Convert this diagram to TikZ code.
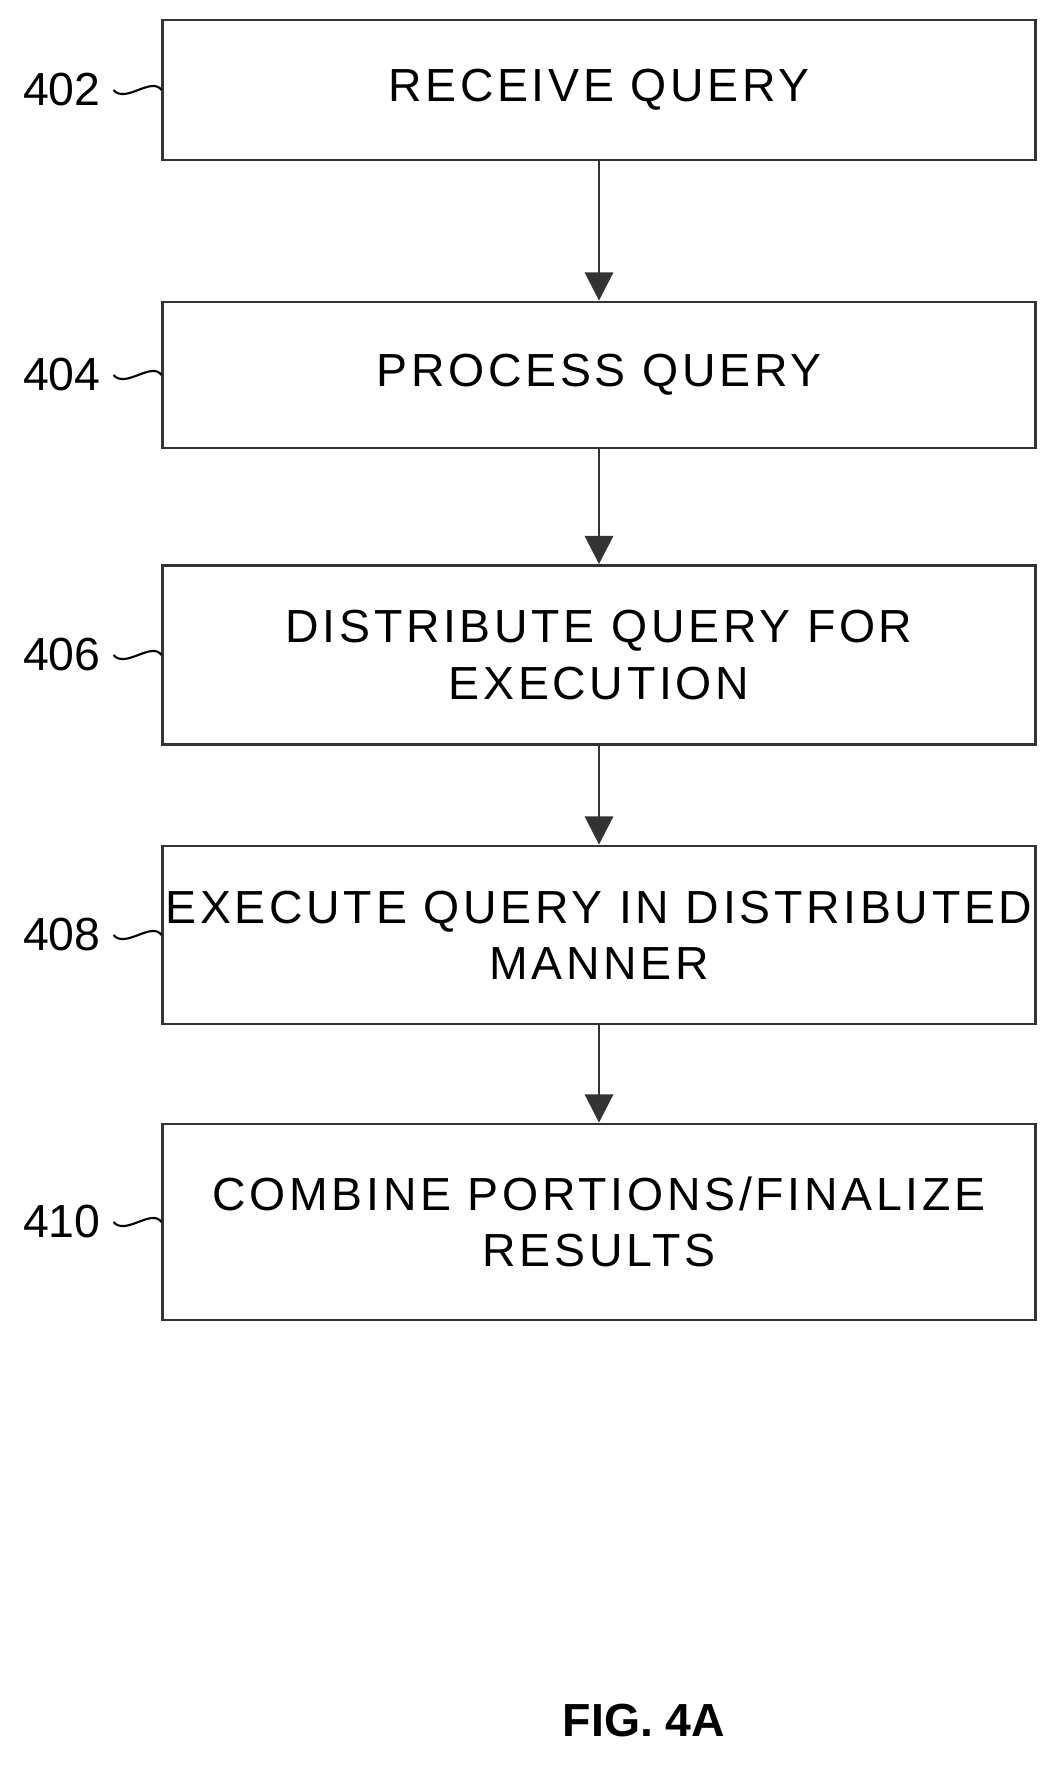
\documentclass[tikz,border=0pt]{standalone}
\usepackage{fontspec}
\setmainfont{Liberation Sans}
\newfontfamily\spacedfont[LetterSpace=8]{Liberation Sans}
\usetikzlibrary{arrows.meta,positioning}

\begin{document}
\begin{tikzpicture}[
  x=0.025cm, y=-0.025cm,
  % styling
  every node/.style={font=\fontsize{33}{40}\selectfont},
  stepbox/.style={
    draw=black!80,
    line width=2pt,
    minimum width=21.8cm,
    align=center,
    inner sep=0pt,
    font=\spacedfont\fontsize{33}{40}\selectfont
  },
  arr/.style={
    -{Triangle[width=20pt,length=20pt]},
    line width=2pt,
    color=black!80
  },
  refnum/.style={anchor=east},
  squiggle/.style={line width=1.5pt}
]
\useasboundingbox (0,0) rectangle (1057,1783);

% Steps
\node[stepbox, minimum height=3.5cm] (receive) at (599,90) {RECEIVE QUERY};
\node[stepbox, minimum height=3.65cm] (process) at (599,375) {PROCESS QUERY};
\node[stepbox, minimum height=4.475cm] (distribute) at (599,655) {DISTRIBUTE QUERY FOR\\EXECUTION};
\node[stepbox, minimum height=4.45cm] (execute) at (599,935) {EXECUTE QUERY IN DISTRIBUTED\\MANNER};
\node[stepbox, minimum height=4.9cm] (combine) at (599,1222) {COMBINE PORTIONS/FINALIZE\\RESULTS};

% Arrows
\draw[arr] (receive) -- (process);
\draw[arr] (process) -- (distribute);
\draw[arr] (distribute) -- (execute);
\draw[arr] (execute) -- (combine);

% Reference numerals
\foreach \num/\blk in {402/receive,404/process,406/distribute,408/execute,410/combine}{
  \node[refnum] (lbl\num) at ([xshift=-1.4cm]\blk.west) {\num};
  \draw[squiggle] ([xshift=0.2cm]lbl\num.east)
    .. controls ++(0.3cm,-0.35cm) and ++(-0.25cm,0.35cm) .. (\blk.west);
}

% Figure label
\node[font=\fontsize{33}{40}\selectfont\bfseries] (fig) at (644,1721) {FIG. 4A};
\end{tikzpicture}
\end{document}
